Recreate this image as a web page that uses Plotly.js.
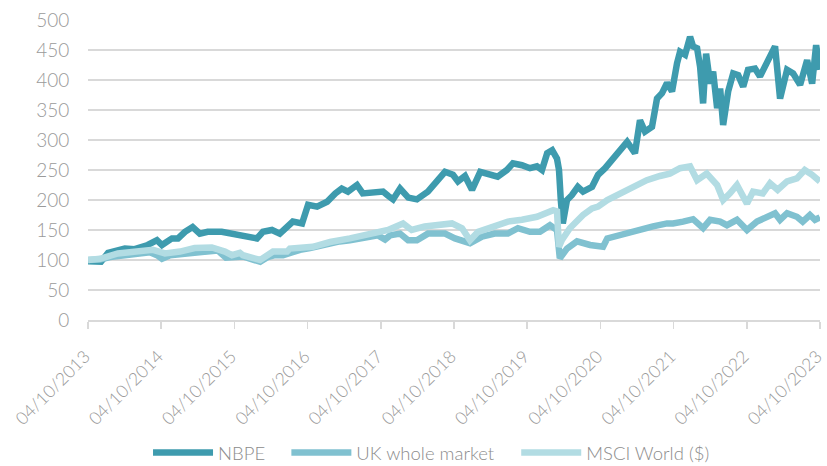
<!DOCTYPE html>
<html>
<head>
<meta charset="utf-8">
<script src="https://cdn.plot.ly/plotly-3.0.1.min.js"></script>
<style>html,body{margin:0;padding:0;background:#fff;}#chart{width:827px;height:466px;}</style>
</head>
<body>
<div id="chart"></div>
<script>
const nbpeDates = ['2013-10-04','2013-12-08','2014-01-12','2014-04-06','2014-05-25','2014-07-29','2014-09-13','2014-10-08','2014-11-27','2014-12-27','2015-01-31','2015-03-10','2015-04-15','2015-05-24','2015-08-02','2015-09-22','2015-10-22','2015-11-16','2016-01-25','2016-02-24','2016-04-09','2016-05-18','2016-06-13','2016-07-22','2016-09-06','2016-10-06','2016-11-20','2017-01-09','2017-02-19','2017-03-23','2017-04-23','2017-06-07','2017-07-06','2017-08-26','2017-10-15','2017-11-09','2017-12-04','2018-01-08','2018-02-18','2018-04-02','2018-05-27','2018-07-10','2018-08-20','2018-09-29','2018-10-24','2018-11-28','2019-01-02','2019-02-12','2019-04-01','2019-05-10','2019-06-25','2019-07-25','2019-09-08','2019-10-18','2019-11-22','2019-12-17','2020-01-12','2020-02-06','2020-03-01','2020-03-11','2020-03-20','2020-03-30','2020-04-20','2020-05-14','2020-06-13','2020-07-09','2020-08-23','2020-09-22','2020-10-27','2020-12-01','2021-01-10','2021-02-14','2021-03-25','2021-04-19','2021-05-14','2021-06-18','2021-07-13','2021-08-07','2021-09-01','2021-09-26','2021-10-21','2021-11-05','2021-11-30','2021-12-25','2022-01-09','2022-01-29','2022-02-13','2022-02-28','2022-03-15','2022-04-04','2022-04-19','2022-05-09','2022-05-24','2022-06-08','2022-07-03','2022-07-28','2022-08-22','2022-09-16','2022-10-10','2022-11-14','2022-12-09','2023-01-13','2023-02-22','2023-03-19','2023-04-23','2023-05-23','2023-06-27','2023-08-01','2023-08-26','2023-09-15','2023-10-04'];
const nbpeValues = [98,97,112,119,118,125,133,125,136,136,147,155,144,147,147,144,142,140,136,147,150,144,153,164,161,192,189,197,211,219,214,225,211,212,214,207,201,219,204,201,214,231,247,242,231,240,217,247,244,239,250,261,258,253,256,250,278,283,269,250,200,161,200,208,222,214,222,242,253,267,283,297,278,333,314,322,369,378,395,381,428,447,442,472,456,453,422,361,444,394,414,353,386,325,381,411,408,389,417,419,406,428,456,369,417,411,392,433,394,458,417];

const ukDates = ['2013-10-04','2013-12-03','2014-01-22','2014-03-11','2014-04-30','2014-06-20','2014-08-09','2014-09-13','2014-10-08','2014-11-17','2015-01-06','2015-02-26','2015-04-15','2015-06-04','2015-07-13','2015-08-23','2015-10-07','2015-11-16','2016-01-01','2016-02-10','2016-03-19','2016-04-24','2016-06-03','2016-07-07','2016-08-27','2016-10-16','2016-12-05','2017-01-24','2017-03-13','2017-05-03','2017-06-22','2017-08-11','2017-09-20','2017-10-25','2017-11-19','2018-01-08','2018-02-17','2018-04-02','2018-05-27','2018-08-20','2018-10-09','2018-12-23','2019-02-21','2019-04-25','2019-06-30','2019-08-19','2019-10-18','2019-12-07','2020-01-26','2020-03-01','2020-03-15','2020-04-20','2020-06-09','2020-08-13','2020-10-17','2020-11-07','2021-01-10','2021-04-04','2021-06-23','2021-09-01','2021-10-01','2021-11-20','2022-01-09','2022-02-28','2022-04-04','2022-05-24','2022-06-27','2022-08-16','2022-10-05','2022-11-24','2023-01-13','2023-02-22','2023-03-19','2023-04-23','2023-06-11','2023-07-10','2023-08-15','2023-09-09','2023-10-04'];
const ukValues = [100,101,105,107,110,111,113,108,102,108,110,112,115,117,116,104,105,106,101,97,105,108,108,112,117,120,124,127,131,133,135,137,141,134,141,144,133,133,144,144,136,128,139,144,144,153,147,147,158,150,103,119,131,125,122,136,142,150,156,161,161,164,168,153,167,164,158,167,150,164,172,178,167,178,172,164,175,167,171];

const msciDates = ['2013-10-04','2013-12-03','2014-03-02','2014-05-25','2014-08-24','2014-10-23','2015-01-06','2015-03-20','2015-06-14','2015-08-18','2015-09-22','2015-11-01','2015-11-16','2016-02-10','2016-04-14','2016-06-23','2016-07-07','2016-10-30','2017-01-24','2017-05-03','2017-08-11','2017-09-04','2017-10-15','2017-11-09','2018-01-23','2018-03-07','2018-05-11','2018-08-05','2018-09-24','2018-11-13','2018-12-23','2019-02-01','2019-04-11','2019-06-30','2019-09-08','2019-11-22','2020-02-11','2020-03-01','2020-03-11','2020-03-25','2020-05-04','2020-07-09','2020-08-23','2020-09-22','2020-11-07','2021-01-10','2021-03-25','2021-05-23','2021-07-28','2021-09-15','2021-11-05','2021-12-25','2022-01-29','2022-03-18','2022-05-09','2022-06-08','2022-07-12','2022-08-16','2022-10-05','2022-11-04','2022-12-23','2023-01-28','2023-03-07','2023-04-23','2023-06-11','2023-07-20','2023-08-26','2023-10-04'];
const msciValues = [100,102,111,113,117,111,114,120,121,114,108,112,108,100,114,114,119,122,130,136,142,144,147,150,161,150,156,158,161,153,133,147,156,164,167,172,183,181,122,133,153,175,186,189,200,211,222,233,240,244,253,256,233,244,225,200,211,225,194,214,211,228,217,231,236,250,242,231];

const tickDates = ['2013-10-04','2014-10-04','2015-10-04','2016-10-04','2017-10-04','2018-10-04','2019-10-04','2020-10-04','2021-10-04','2022-10-04','2023-10-04'];
const tickLabels = ['04/10/2013','04/10/2014','04/10/2015','04/10/2016','04/10/2017','04/10/2018','04/10/2019','04/10/2020','04/10/2021','04/10/2022','04/10/2023'];
const seriesNames = ['NBPE','UK whole market','MSCI World ($)'];

const colors = ['#3e9bae','#80c1d0','#b2dce3'];
const font = 'Lato, "Open Sans", sans-serif';
const textColor = '#9a9a9a';
const legendIds = ['legend', 'legend2', 'legend3'];
const legendX = [0.082, 0.271, 0.585];

const traces = [
  {x: nbpeDates, y: nbpeValues, name: seriesNames[0]},
  {x: ukDates, y: ukValues, name: seriesNames[1]},
  {x: msciDates, y: msciValues, name: seriesNames[2]}
].map((t, i) => Object.assign(t, {
  type: 'scatter', mode: 'lines',
  line: {color: colors[i], width: 6.5, shape: 'linear'},
  legend: legendIds[i],
  hoverinfo: 'skip'
}));

const layout = {
  width: 827, height: 466,
  margin: {l: 88, r: 7, t: 20, b: 146, autoexpand: false},
  paper_bgcolor: '#ffffff', plot_bgcolor: '#ffffff',
  font: {family: font, size: 18, color: textColor, weight: 300},
  showlegend: true,
  xaxis: {
    type: 'date', range: ['2013-10-04', '2023-10-04 06:00'],
    tickmode: 'array', tickvals: tickDates, ticktext: tickLabels,
    tickangle: -45, ticks: 'outside', ticklen: 7, tickcolor: '#d9d9d9', tickwidth: 1.5,
    ticklabelstandoff: 11, ticklabelshift: -3, ticklabeloverflow: 'allow',
    showline: true, linecolor: '#d9d9d9', linewidth: 1.5,
    showgrid: false, zeroline: false, automargin: false,
    tickfont: {family: font, size: 17.5, color: textColor, weight: 300}
  },
  yaxis: {
    range: [0, 500], dtick: 50, tick0: 0,
    showgrid: true, gridcolor: '#d9d9d9', gridwidth: 1.5,
    zeroline: false, showline: false,
    ticks: 'outside', ticklen: 14, tickcolor: 'rgba(0,0,0,0)',
    automargin: false,
    tickfont: {family: font, size: 19, color: textColor, weight: 300}
  }
};
legendIds.forEach((id, i) => {
  layout[id] = {
    orientation: 'h', x: legendX[i], xanchor: 'left', y: -0.5067, yanchor: 'bottom',
    font: {family: font, size: 18.5, color: '#8c8c8c', weight: 300},
    itemwidth: 60, bgcolor: 'rgba(0,0,0,0)'
  };
});

Plotly.newPlot('chart', traces, layout, {staticPlot: true, displayModeBar: false});
</script>
</body>
</html>
